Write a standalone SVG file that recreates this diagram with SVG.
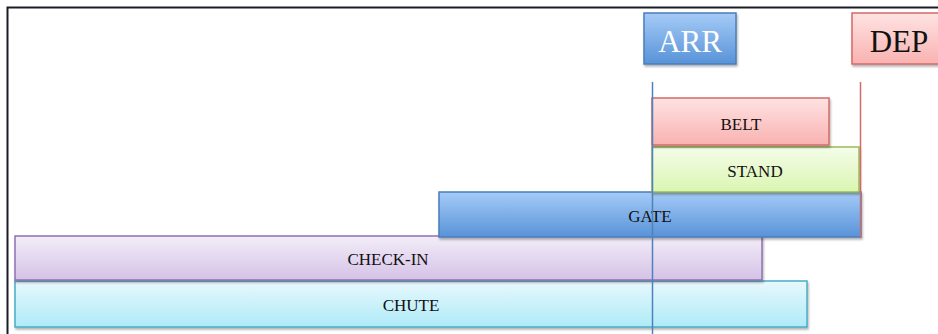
<svg xmlns="http://www.w3.org/2000/svg" width="938" height="334" viewBox="0 0 938 334">
<defs>
<linearGradient id="gBlue" x1="0" y1="0" x2="0" y2="1"><stop offset="0" stop-color="#a5cbf7"/><stop offset="1" stop-color="#5893d8"/></linearGradient>
<linearGradient id="gRed" x1="0" y1="0" x2="0" y2="1"><stop offset="0" stop-color="#ffe3e3"/><stop offset="1" stop-color="#f8b2b0"/></linearGradient>
<linearGradient id="gGreen" x1="0" y1="0" x2="0" y2="1"><stop offset="0" stop-color="#f5fde9"/><stop offset="1" stop-color="#daf5b2"/></linearGradient>
<linearGradient id="gPurple" x1="0" y1="0" x2="0" y2="1"><stop offset="0" stop-color="#f3edf8"/><stop offset="1" stop-color="#d5c2e7"/></linearGradient>
<linearGradient id="gCyan" x1="0" y1="0" x2="0" y2="1"><stop offset="0" stop-color="#e8f8fd"/><stop offset="1" stop-color="#aeebf8"/></linearGradient>
<filter id="sh" x="-5%" y="-20%" width="110%" height="150%"><feDropShadow dx="1" dy="2" stdDeviation="1.2" flood-color="#000" flood-opacity="0.3"/></filter>
</defs>
<style>
.lbl{font-family:"Liberation Serif","Times New Roman",serif;font-size:17px;fill:#111;text-anchor:middle}
.big{font-family:"Liberation Serif","Times New Roman",serif;font-size:31px;text-anchor:middle}
rect{stroke-width:1.5;filter:url(#sh)}
</style>
<rect x="0" y="0" width="938" height="334" fill="#fff" style="filter:none"/>
<path d="M7.5 334 V7.5 H938" fill="none" stroke="#1c1c26" stroke-width="2"/>
<g id="chute"><rect x="15" y="281" width="792" height="46" fill="url(#gCyan)" stroke="#4bacc6"/><text class="lbl" x="411" y="311">CHUTE</text></g>
<g id="checkin"><rect x="15" y="236" width="747" height="44" fill="url(#gPurple)" stroke="#8e72b3"/><text class="lbl" x="388" y="265">CHECK-IN</text></g>
<g id="gate"><rect x="439" y="192" width="422" height="45" fill="url(#gBlue)" stroke="#4a7ebb"/><text class="lbl" x="650" y="222">GATE</text></g>
<g id="stand"><rect x="652" y="147" width="207" height="45" fill="url(#gGreen)" stroke="#9bbb59"/><text class="lbl" x="755" y="177">STAND</text></g>
<g id="belt"><rect x="652" y="98" width="177" height="47" fill="url(#gRed)" stroke="#d46a66"/><text class="lbl" x="741" y="130">BELT</text></g>
<g id="arr"><rect x="644" y="13" width="92" height="51" fill="url(#gBlue)" stroke="#4a7ebb"/><text class="big" x="690" y="52" fill="#fff">ARR</text></g>
<g id="dep"><rect x="852" y="13" width="92" height="51" fill="url(#gRed)" stroke="#d46a66"/><text class="big" x="899" y="52" fill="#111">DEP</text></g>
<g id="connectors">
<line x1="652.5" y1="82" x2="652.5" y2="334" stroke="#4f81bd" stroke-width="1.5"/>
<line x1="860.5" y1="82" x2="860.5" y2="238" stroke="#d46a66" stroke-width="1.5"/>
</g>
</svg>
